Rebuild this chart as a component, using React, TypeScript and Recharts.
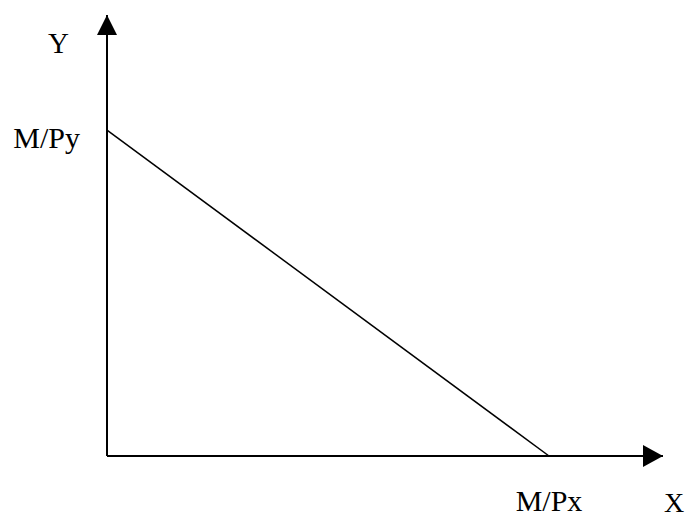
import { LineChart, Line, XAxis, YAxis, ReferenceDot } from "recharts";

// budget line: from the Y intercept down to the X intercept
const interceptLabels = ["M/Py", "M/Px"];
const xValues = [0, 79.5];
const yValues = [73.9, 0];
const axisNames = ["X", "Y"];

const data = xValues.map((x, i) => ({ x, y: yValues[i] }));

const FONT = '"Liberation Serif", "Times New Roman", serif';

const XTick = (props: any) => {
  const { x, y } = props;
  return (
    <text x={x} y={y + 55} textAnchor="middle" fontFamily={FONT} fontSize={30} fill="#000">
      {interceptLabels[1]}
    </text>
  );
};

const YTick = (props: any) => {
  const { x, y } = props;
  return (
    <text x={x - 27} y={y + 18} textAnchor="end" fontFamily={FONT} fontSize={30} fill="#000">
      {interceptLabels[0]}
    </text>
  );
};

const RightArrow = (props: any) => {
  const { cx, cy } = props;
  return (
    <g>
      <polygon points={`${cx},${cy} ${cx - 20},${cy - 11} ${cx - 20},${cy + 11}`} fill="#000" />
      <text x={cx + 1} y={cy + 56} fontFamily={FONT} fontSize={28} fill="#000">
        {axisNames[0]}
      </text>
    </g>
  );
};

const UpArrow = (props: any) => {
  const { cx, cy } = props;
  return (
    <g>
      <polygon points={`${cx},${cy} ${cx - 10},${cy + 20} ${cx + 10},${cy + 20}`} fill="#000" />
      <text x={cx - 59} y={cy + 38} fontFamily={FONT} fontSize={29} fill="#000">
        {axisNames[1]}
      </text>
    </g>
  );
};

export default function App() {
  return (
    <div style={{ position: "absolute", left: 0, top: 0, width: 685, height: 515, background: "#fff" }}>
      <LineChart width={685} height={515} data={data} margin={{ top: 15, right: 22, left: 0, bottom: 0 }}>
        <XAxis
          dataKey="x"
          type="number"
          domain={[0, 100]}
          ticks={[xValues[1]]}
          tick={<XTick />}
          tickLine={false}
          tickSize={0}
          tickMargin={0}
          height={59}
          axisLine={{ stroke: "#000", strokeWidth: 2 }}
        />
        <YAxis
          dataKey="y"
          type="number"
          domain={[0, 100]}
          ticks={[yValues[0]]}
          tick={<YTick />}
          tickLine={false}
          tickSize={0}
          tickMargin={0}
          width={107}
          axisLine={{ stroke: "#000", strokeWidth: 2 }}
        />
        <Line
          type="linear"
          dataKey="y"
          stroke="#000"
          strokeWidth={1.5}
          dot={false}
          isAnimationActive={false}
        />
        <ReferenceDot x={100} y={0} r={0} shape={<RightArrow />} ifOverflow="visible" />
        <ReferenceDot x={0} y={100} r={0} shape={<UpArrow />} ifOverflow="visible" />
      </LineChart>
    </div>
  );
}
